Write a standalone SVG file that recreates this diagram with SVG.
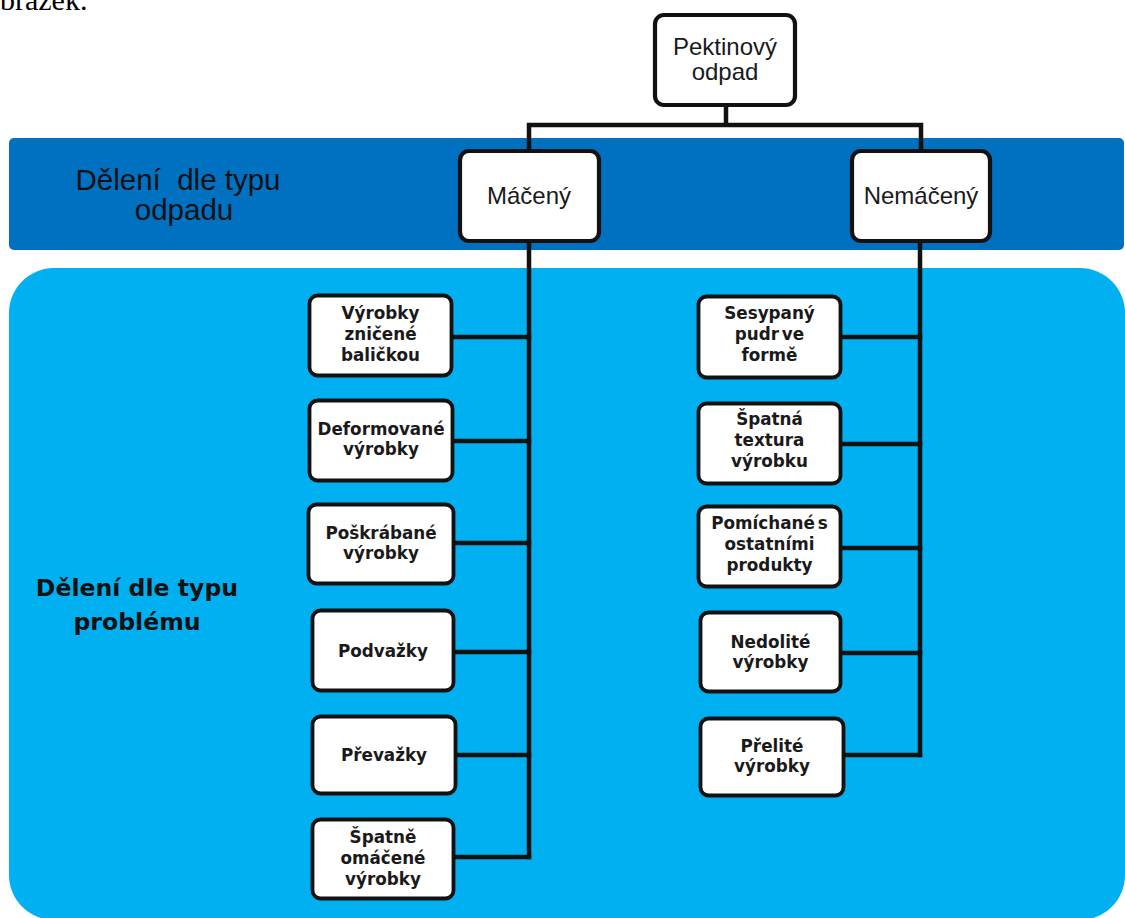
<svg xmlns="http://www.w3.org/2000/svg" width="1125" height="918" viewBox="0 0 1125 918">
  <style>
    .band-dark { fill: #0070C0; }
    .band-light { fill: #00B0F0; }
    .box { fill: #ffffff; stroke: #111111; stroke-width: 3.8; }
    .box-main { fill: #ffffff; stroke: #111111; stroke-width: 4.2; }
    .wire { fill: none; stroke: #111111; stroke-width: 4.5; stroke-linecap: square; }
    .t-main { font-family: "Liberation Sans", Arial, sans-serif; font-size: 24px; fill: #1a1a1a; text-anchor: middle; }
    .t-node { font-family: "DejaVu Sans", Verdana, sans-serif; font-weight: bold; font-size: 16.8px; fill: #1a1a1a; text-anchor: middle; word-spacing: -3px; }
    .t-band { font-family: "Liberation Sans", Arial, sans-serif; font-size: 29.5px; fill: #111111; text-anchor: middle; }
    .t-side { font-family: "DejaVu Sans", Verdana, sans-serif; font-weight: bold; font-size: 23.6px; fill: #111111; text-anchor: middle; }
    .t-page { font-family: "Liberation Serif", "Times New Roman", serif; font-size: 30px; fill: #000000; }
  </style>

  <!-- page text above the chart -->
  <text class="t-page" x="0" y="10">brázek.</text>

  <!-- background bands -->
  <rect class="band-dark" x="9" y="138" width="1115" height="112" rx="5"/>
  <rect class="band-light" x="9" y="268" width="1116" height="652" rx="45"/>

  <text class="t-band" x="178" y="190" xml:space="preserve">Dělení  dle typu</text>
  <text class="t-band" x="184" y="220">odpadu</text>

  <text class="t-side" x="137" y="596">Dělení dle typu</text>
  <text class="t-side" x="137" y="630">problému</text>

  <!-- connectors -->
  <g id="connectors">
    <path class="wire" d="M726,107 V125 M529,125 H921 M529,125 V151 M921,125 V151"/>
    <path class="wire" d="M529,241 V857"/>
    <path class="wire" d="M920,241 V755"/>
    <path class="wire" d="M453,337 H529 M454,441 H529 M455,543 H529 M455,652 H529 M457,755 H529 M455,857 H529"/>
    <path class="wire" d="M842,337 H920 M842,444 H920 M842,548 H920 M842,653 H920 M845,755 H920"/>
  </g>

  <!-- top level -->
  <g id="pektinovy-odpad">
    <rect class="box-main" x="655" y="15" width="140" height="90" rx="9"/>
    <text class="t-main" x="725" y="55">Pektinový</text>
    <text class="t-main" x="725" y="80">odpad</text>
  </g>

  <g id="maceny">
    <rect class="box-main" x="460" y="151" width="139" height="90" rx="9"/>
    <text class="t-main" x="529" y="204">Máčený</text>
  </g>

  <g id="nemaceny">
    <rect class="box-main" x="852" y="151" width="138" height="90" rx="9"/>
    <text class="t-main" x="921" y="204">Nemáčený</text>
  </g>

  <!-- left column -->
  <g id="vyrobky-znicene">
    <rect class="box" x="309.5" y="295.5" width="142" height="80" rx="8"/>
    <text class="t-node" x="380.5" y="319">Výrobky</text>
    <text class="t-node" x="380.5" y="340">zničené</text>
    <text class="t-node" x="380.5" y="361">baličkou</text>
  </g>

  <g id="deformovane">
    <rect class="box" x="309.5" y="400.5" width="143" height="80" rx="8"/>
    <text class="t-node" x="381" y="435">Deformované</text>
    <text class="t-node" x="381" y="455">výrobky</text>
  </g>

  <g id="poskrabane">
    <rect class="box" x="308.5" y="504.5" width="145" height="79" rx="8"/>
    <text class="t-node" x="381" y="539">Poškrábané</text>
    <text class="t-node" x="381" y="559">výrobky</text>
  </g>

  <g id="podvazky">
    <rect class="box" x="312.5" y="610.5" width="141" height="80" rx="8"/>
    <text class="t-node" x="383" y="657">Podvažky</text>
  </g>

  <g id="prevazky">
    <rect class="box" x="312.5" y="716.5" width="143" height="77" rx="8"/>
    <text class="t-node" x="384" y="761">Převažky</text>
  </g>

  <g id="spatne-omacene">
    <rect class="box" x="312.5" y="819.5" width="141" height="79" rx="8"/>
    <text class="t-node" x="383" y="843">Špatně</text>
    <text class="t-node" x="383" y="864">omáčené</text>
    <text class="t-node" x="383" y="885">výrobky</text>
  </g>

  <!-- right column -->
  <g id="sesypany-pudr">
    <rect class="box" x="698.5" y="296.5" width="142" height="81" rx="8"/>
    <text class="t-node" x="769.5" y="319">Sesypaný</text>
    <text class="t-node" x="769.5" y="340">pudr ve</text>
    <text class="t-node" x="769.5" y="361">formě</text>
  </g>

  <g id="spatna-textura">
    <rect class="box" x="698.5" y="403.5" width="142" height="80" rx="8"/>
    <text class="t-node" x="769.5" y="425">Špatná</text>
    <text class="t-node" x="769.5" y="446">textura</text>
    <text class="t-node" x="769.5" y="467">výrobku</text>
  </g>

  <g id="pomichane">
    <rect class="box" x="698.5" y="506.5" width="142" height="80" rx="8"/>
    <text class="t-node" x="769.5" y="529">Pomíchané s</text>
    <text class="t-node" x="769.5" y="550">ostatními</text>
    <text class="t-node" x="769.5" y="571">produkty</text>
  </g>

  <g id="nedolite">
    <rect class="box" x="700.5" y="612.5" width="140" height="79" rx="8"/>
    <text class="t-node" x="770.5" y="648">Nedolité</text>
    <text class="t-node" x="770.5" y="668">výrobky</text>
  </g>

  <g id="prelite">
    <rect class="box" x="700.5" y="718.5" width="143" height="77" rx="8"/>
    <text class="t-node" x="772" y="752">Přelité</text>
    <text class="t-node" x="772" y="772">výrobky</text>
  </g>
</svg>
